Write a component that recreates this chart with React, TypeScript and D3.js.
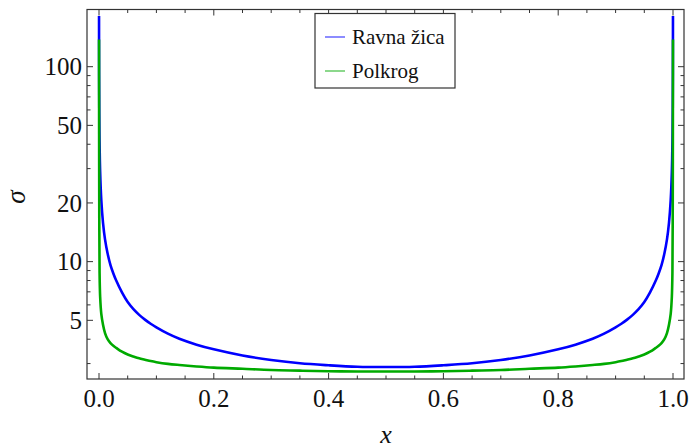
import React from 'react';
import * as d3 from 'd3';

// sample positions along the wire
const xs = [
  0.00005, 0.0002, 0.0005, 0.001, 0.002, 0.004, 0.007, 0.0105, 0.015, 0.02, 0.025, 0.03, 0.04,
  0.05, 0.06, 0.07, 0.08, 0.09, 0.1, 0.12, 0.14, 0.17, 0.2, 0.25, 0.3, 0.35, 0.4, 0.45, 0.5,
  0.55, 0.6, 0.65, 0.7, 0.75, 0.8, 0.83, 0.86, 0.88, 0.9, 0.91, 0.92, 0.93, 0.94, 0.95, 0.96,
  0.97, 0.975, 0.98, 0.985, 0.9895, 0.993, 0.996, 0.998, 0.999, 0.9995, 0.9998, 0.99995,
];

const ravna = [
  182, 92, 58, 41, 29, 20.7, 15.8, 13.0, 11.0, 9.6, 8.7, 8.0, 6.95,
  6.2, 5.7, 5.33, 5.04, 4.8, 4.6, 4.27, 4.02, 3.75, 3.55, 3.3, 3.13, 3.01, 2.94, 2.89, 2.88,
  2.89, 2.94, 3.01, 3.13, 3.3, 3.55, 3.75, 4.02, 4.27, 4.6, 4.8, 5.04, 5.33, 5.7, 6.2, 6.95,
  8.0, 8.7, 9.6, 11.0, 13.0, 15.8, 20.7, 29, 41, 58, 92, 182,
];

const polkrog = [
  138, 45, 16, 8.8, 6.6, 5.4, 4.75, 4.3, 4.0, 3.82, 3.7, 3.61, 3.45,
  3.34, 3.26, 3.19, 3.14, 3.09, 3.05, 2.99, 2.95, 2.9, 2.86, 2.82, 2.78, 2.76, 2.74, 2.73, 2.73,
  2.73, 2.74, 2.76, 2.78, 2.82, 2.86, 2.9, 2.95, 2.99, 3.05, 3.09, 3.14, 3.19, 3.26, 3.34, 3.45,
  3.61, 3.7, 3.82, 4.0, 4.3, 4.75, 5.4, 6.6, 8.8, 16, 45, 138,
];

const seriesNames = ['Ravna žica', 'Polkrog'];
const xMajor = [0, 0.2, 0.4, 0.6, 0.8, 1.0];
const xMinor = [0.05, 0.1, 0.15, 0.25, 0.3, 0.35, 0.45, 0.5, 0.55, 0.65, 0.7, 0.75, 0.85, 0.9, 0.95];
const yMajor = [5, 10, 20, 50, 100];
const yMinor = [3, 4, 6, 7, 8, 9, 30, 40, 60, 70, 80, 90];

const W = 692;
const H = 448;
const frame = { left: 87, right: 684, top: 9.5, bottom: 379 };
const serif = { fontFamily: 'Liberation Serif' };

export default function App() {
  const x = d3.scaleLinear().domain([0, 1]).range([99, 673]);
  const y = d3.scaleLog().domain([2.5, 196.5]).range([frame.bottom, frame.top]);

  const line = d3
    .line<number>()
    .x((_, i) => x(xs[i]))
    .y((d) => y(d))
    .curve(d3.curveCatmullRom.alpha(0.5));

  const colors = ['#0000ff', '#00aa00'];
  const major = 6;
  const minor = 3.5;

  return (
    <svg width={W} height={H} style={{ position: 'absolute', left: 0, top: 0, background: '#fff' }}>
      <defs>
        <clipPath id="plot">
          <rect x={frame.left} y={frame.top} width={frame.right - frame.left} height={frame.bottom - frame.top} />
        </clipPath>
      </defs>

      {/* curves */}
      <g clipPath="url(#plot)" fill="none" strokeWidth={2.6} strokeLinejoin="round">
        <path d={line(ravna) || ''} stroke={colors[0]} />
        <path d={line(polkrog) || ''} stroke={colors[1]} />
      </g>

      {/* frame */}
      <rect
        x={frame.left}
        y={frame.top}
        width={frame.right - frame.left}
        height={frame.bottom - frame.top}
        fill="none"
        stroke="#333"
        strokeWidth={1.2}
      />

      {/* ticks on all four sides */}
      <g stroke="#333" strokeWidth={1}>
        {xMajor.map((t) => (
          <g key={'xM' + t}>
            <line x1={x(t)} x2={x(t)} y1={frame.bottom} y2={frame.bottom - major} />
            <line x1={x(t)} x2={x(t)} y1={frame.top} y2={frame.top + major} />
          </g>
        ))}
        {xMinor.map((t) => (
          <g key={'xm' + t}>
            <line x1={x(t)} x2={x(t)} y1={frame.bottom} y2={frame.bottom - minor} />
            <line x1={x(t)} x2={x(t)} y1={frame.top} y2={frame.top + minor} />
          </g>
        ))}
        {yMajor.map((t) => (
          <g key={'yM' + t}>
            <line x1={frame.left} x2={frame.left + major} y1={y(t)} y2={y(t)} />
            <line x1={frame.right} x2={frame.right - major} y1={y(t)} y2={y(t)} />
          </g>
        ))}
        {yMinor.map((t) => (
          <g key={'ym' + t}>
            <line x1={frame.left} x2={frame.left + minor} y1={y(t)} y2={y(t)} />
            <line x1={frame.right} x2={frame.right - minor} y1={y(t)} y2={y(t)} />
          </g>
        ))}
      </g>

      {/* tick labels */}
      <g style={serif} fontSize={25} fill="#111">
        {xMajor.map((t) => (
          <text key={'xl' + t} x={x(t)} y={407} textAnchor="middle">
            {d3.format('.1f')(t)}
          </text>
        ))}
        {yMajor.map((t) => (
          <text key={'yl' + t} x={82} y={y(t)} dy="0.35em" textAnchor="end">
            {t}
          </text>
        ))}
      </g>

      {/* axis labels */}
      <text x={386} y={443} textAnchor="middle" style={serif} fontStyle="italic" fontSize={26} fill="#111">
        x
      </text>
      <text
        transform="translate(25,197) rotate(-90)"
        textAnchor="middle"
        style={serif}
        fontStyle="italic"
        fontSize={27}
        fill="#111"
      >
        σ
      </text>

      {/* legend */}
      <g>
        <rect x={315} y={13.5} width={140} height={74.5} fill="#fff" stroke="#333" strokeWidth={1.2} />
        {seriesNames.map((name, i) => (
          <g key={name} transform={`translate(0,${37 + i * 34})`}>
            <line x1={325} x2={345} y1={0} y2={0} stroke={colors[i]} strokeWidth={1.5} opacity={0.6} />
            <text x={352} y={0} dy="0.33em" style={serif} fontSize={21} fill="#111">
              {name}
            </text>
          </g>
        ))}
      </g>
    </svg>
  );
}
